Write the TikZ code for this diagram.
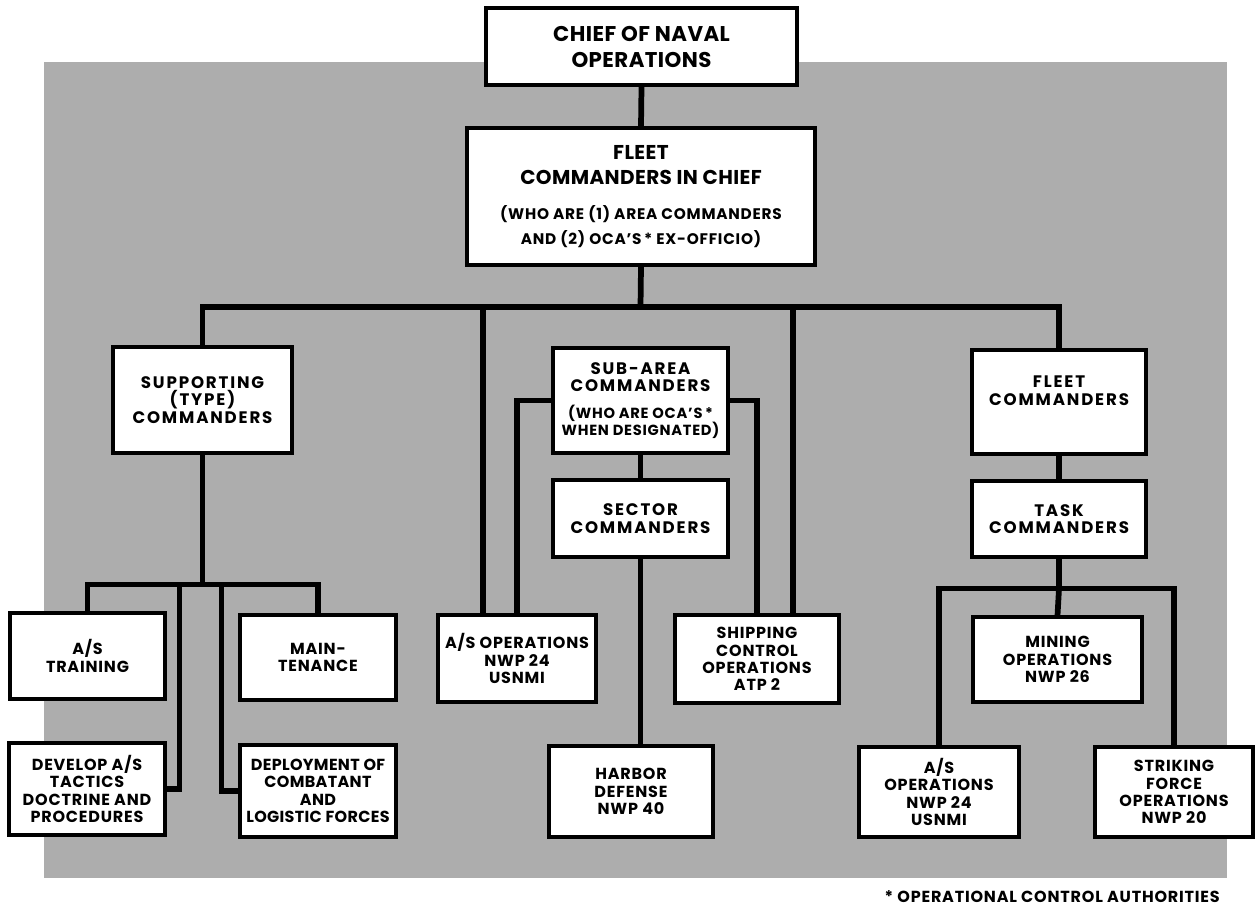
\documentclass[tikz,border=0pt]{standalone}
\usepackage{fontspec}
\setmainfont{Poppins}
\newfontfamily\lbl[LetterSpace=5]{Poppins}
\newfontfamily\lblw[LetterSpace=11]{Poppins}
\newfontfamily\lbln[LetterSpace=2]{Poppins}
\usetikzlibrary{calc,backgrounds}
\pgfdeclarelayer{shade}
\pgfsetlayers{shade,background,main}
\tikzset{
  bx/.style 2 args={draw, line width=2.3pt, fill=white, align=center, inner sep=0pt,
     minimum width=#1*0.75pt, minimum height=#2*0.75pt,
     font=\lbl\bfseries\fontsize{12}{13}\selectfont},
  wide/.style={font=\lblw\bfseries\fontsize{12.5}{13}\selectfont},
  ln/.style={line width=4.3pt, line cap=rect, line join=miter},
}
\begin{document}
\begin{tikzpicture}[x=0.75pt,y=-0.75pt]
\useasboundingbox (0,0) rectangle (1255,907);
\begin{pgfonlayer}{shade}
  \fill[black!32] (44,62) rectangle (1227,878);
\end{pgfonlayer}

\node[bx={311}{77}, font=\lbln\bfseries\fontsize{16}{19.5}\selectfont] (cno) at (641.5,46.5) {CHIEF OF NAVAL\\OPERATIONS};
\node[bx={348}{137}, font=\lbln\bfseries\fontsize{15}{19}\selectfont] (fcic) at (641,196.5)
  {FLEET\\COMMANDERS IN CHIEF\\[7pt]{\lbl\fontsize{11.5}{15}\selectfont (WHO ARE (1) AREA COMMANDERS}\\{\lbl\fontsize{11.5}{15}\selectfont AND (2) OCA’S\,* EX-OFFICIO)}};

\node[bx={179}{106}, wide] (sup) at (202.5,400) {SUPPORTING\\(TYPE)\\COMMANDERS};
\node[bx={175}{105}, wide] (sub) at (640.5,400.5) {SUB-AREA\\COMMANDERS\\[7pt]{\lbl\fontsize{11}{14}\selectfont(WHO ARE OCA’S\,*}\\{\lbl\fontsize{11}{14}\selectfont WHEN DESIGNATED)}};
\node[bx={175}{77}, wide] (sec) at (640.5,518.5) {SECTOR\\COMMANDERS};
\node[bx={174}{104}, wide] (flt) at (1059,402) {FLEET\\COMMANDERS\\[4pt]\mbox{}};
\node[bx={174}{76}, wide] (tsk) at (1059,519) {TASK\\COMMANDERS};

\node[bx={155}{86}] (trn) at (87.5,656) {A/S\\TRAINING};
\node[bx={156}{85}] (mnt) at (318,657.5) {MAIN-\\TENANCE};
\node[bx={158}{87}] (aso) at (517,658.5) {A/S OPERATIONS\\NWP 24\\USNMI};
\node[bx={164}{88}] (shp) at (757,659) {SHIPPING\\CONTROL\\OPERATIONS\\ATP 2};
\node[bx={169}{85}] (min) at (1057.5,659.5) {MINING\\OPERATIONS\\NWP 26};

\node[bx={156}{92}] (dev) at (87,789) {DEVELOP A/S\\TACTICS\\DOCTRINE AND\\PROCEDURES};
\node[bx={156}{92}, font=\lbln\bfseries\fontsize{12}{13}\selectfont] (dep) at (318,791) {DEPLOYMENT OF\\COMBATANT\\AND\\LOGISTIC FORCES};
\node[bx={164}{91}] (hbr) at (631,791.5) {HARBOR\\DEFENSE\\NWP 40};
\node[bx={160}{90}] (aso2) at (939,792) {A/S\\OPERATIONS\\NWP 24\\USNMI};
\node[bx={158}{90}] (stk) at (1174,792) {STRIKING\\FORCE\\OPERATIONS\\NWP 20};

\node[anchor=east, inner sep=0pt, font=\lbl\bfseries\fontsize{12}{13}\selectfont] (fn) at (1220,897) {* OPERATIONAL CONTROL AUTHORITIES};

\begin{pgfonlayer}{background}
  \coordinate (bus) at (640.5,307);
  \draw[ln] (cno.south) -- (fcic.north);
  \draw[ln] (fcic.south) -- (bus);
  \draw[ln] (sup.north) |- (bus) -| (flt.north);
  \coordinate (asoA) at ($(aso.north)+(-34,0)$);
  \draw[ln] (asoA) -- (asoA |- bus);
  \coordinate (shpA) at ($(shp.north)+(36,0)$);
  \draw[ln] (shpA) -- (shpA |- bus);
  \draw[ln] (sub.west) -| (aso.north);
  \draw[ln] (sub.east) -| (shp.north);
  \draw[ln] (sub.south) -- (sec.north);
  \draw[ln] (sec.south) -- (sec.south |- hbr.north);
  % supporting subtree
  \coordinate (sbus) at ($(sup.south)+(0,130)$);
  \draw[ln] (sup.south) -- (sbus);
  \draw[ln] (trn.north) |- (sbus) -| (mnt.north);
  \draw[ln] (dev.east) -| ($(sbus)+(-23,0)$);
  \draw[ln] (dep.west) -| ($(sbus)+(19,0)$);
  % fleet subtree
  \draw[ln] (flt.south) -- (tsk.north);
  \coordinate (tbus) at ($(tsk.south)+(0,30)$);
  \draw[ln] (tsk.south) -- (tbus);
  \draw[ln] (min.north) -- (tbus);
  \draw[ln] (aso2.north) |- (tbus) -| (stk.north);
\end{pgfonlayer}
\end{tikzpicture}
\end{document}
